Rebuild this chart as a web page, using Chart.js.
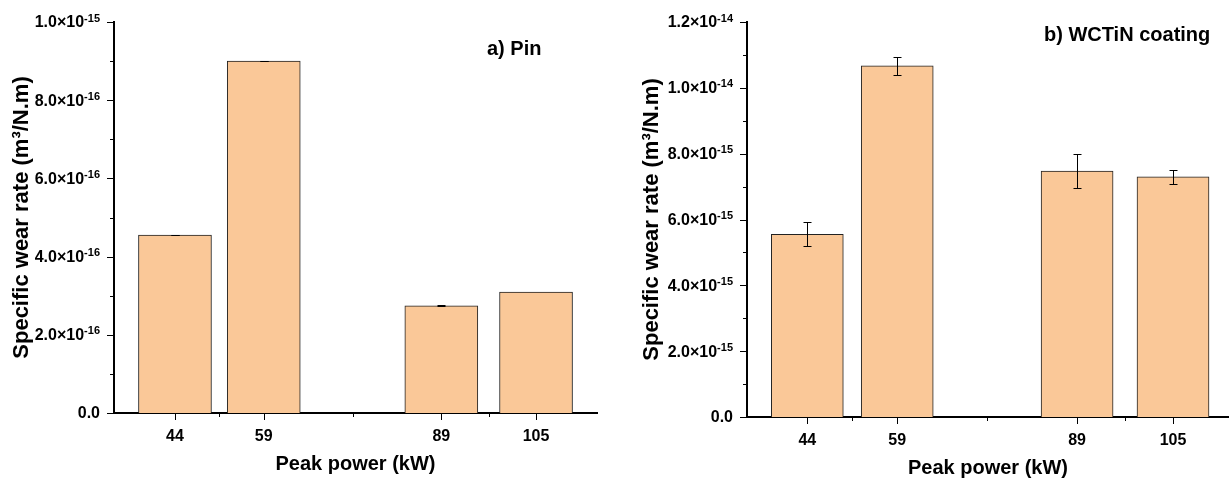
<!DOCTYPE html>
<html>
<head>
<meta charset="utf-8">
<title>Specific wear rate vs peak power</title>
<script src="https://cdn.jsdelivr.net/npm/chart.js@4"></script>
<style>
  html, body { margin: 0; padding: 0; background: #fff; }
  #wrap { position: relative; width: 1229px; height: 480px; overflow: hidden; }
  .panel { position: absolute; top: 0; }
  #panel-pin { left: 0; }
  #panel-coating { left: 630px; }
</style>
</head>
<body>
<div id="wrap">
  <canvas id="panel-pin" class="panel" width="612" height="480"></canvas>
  <canvas id="panel-coating" class="panel" width="599" height="480"></canvas>
</div>
<script>
// Peak power levels (kW)
const peakPower = [44, 59, 89, 105];

// a) pin wear rate, m3/N.m
const pinWear = [4.55e-16, 9.0e-16, 2.74e-16, 3.09e-16];
const pinErr  = [0.01e-16, 0.01e-16, 0.01e-16, 0];

// b) WCTiN coating wear rate, m3/N.m
const coatingWear = [5.55e-15, 10.67e-15, 7.47e-15, 7.30e-15];
const coatingErr  = [0.36e-15, 0.28e-15, 0.52e-15, 0.21e-15];

// Major y ticks for each panel
const pinYTicks     = [0, 2e-16, 4e-16, 6e-16, 8e-16, 1e-15];
const coatingYTicks = [0, 2e-15, 4e-15, 6e-15, 8e-15, 1e-14, 1.2e-14];

const FONT      = "'Liberation Sans', Arial, Helvetica, sans-serif";
const BAR_FILL  = '#FAC898';
const BAR_EDGE  = '#222';

// --- Helpers ---

// majors plus one minor tick half way between each pair
function withMinors(majors) {
    const ticks = [];
    majors.forEach((v, i) => {
        if (i > 0) ticks.push({ value: (majors[i - 1] + v) / 2, minor: true });
        ticks.push({ value: v, minor: false });
    });
    return ticks;
}

// 8e-16 -> { base: '8.0×10', exp: '-16' }
function splitSci(v) {
    if (v === 0) return { base: '0.0', exp: '' };
    const exp  = Math.floor(Math.log10(v) + 1e-9);
    const mant = v / Math.pow(10, exp);
    return { base: mant.toFixed(1) + '×10', exp: String(exp) };
}

// --- Plugins ---

// Error bars with small caps, drawn over the bars
const errorBars = {
    id: 'errorBars',
    afterDatasetsDraw(chart, args, opts) {
        const { ctx } = chart;
        const y    = chart.scales.y;
        const meta = chart.getDatasetMeta(0);
        const data = chart.data.datasets[0].data;
        const errs = opts.values || [];

        ctx.save();
        ctx.strokeStyle = '#000';
        ctx.lineWidth = 1;
        meta.data.forEach((bar, i) => {
            const e = errs[i];
            if (!e) return;
            const v   = data[i].y;
            const top = Math.round(y.getPixelForValue(v + e)) + 0.5;
            const bot = Math.round(y.getPixelForValue(v - e)) + 0.5;
            const cx  = Math.round(bar.x) + 0.5;
            ctx.beginPath();
            ctx.moveTo(cx, top);     ctx.lineTo(cx, bot);
            ctx.moveTo(cx - 4, top); ctx.lineTo(cx + 4, top);
            ctx.moveTo(cx - 4, bot); ctx.lineTo(cx + 4, bot);
            ctx.stroke();
        });
        ctx.restore();
    }
};

// Outward tick marks (short minors), y labels with superscript exponent, panel label
const axisDecor = {
    id: 'axisDecor',
    afterDraw(chart, args, opts) {
        const { ctx, chartArea } = chart;
        const { x, y } = chart.scales;

        ctx.save();
        ctx.strokeStyle = '#000';
        ctx.lineWidth = 1;
        ctx.beginPath();
        x.ticks.forEach(t => {
            const px  = Math.round(x.getPixelForValue(t.value)) + 0.5;
            const len = t.minor ? 4 : 7;
            ctx.moveTo(px, chartArea.bottom);
            ctx.lineTo(px, chartArea.bottom + len);
        });
        y.ticks.forEach(t => {
            const py  = Math.round(y.getPixelForValue(t.value)) + 0.5;
            const len = t.minor ? 4 : 7;
            ctx.moveTo(chartArea.left, py);
            ctx.lineTo(chartArea.left - len, py);
        });
        ctx.stroke();

        ctx.fillStyle = '#000';
        const right = chartArea.left - 14;
        y.ticks.forEach(t => {
            if (t.minor) return;
            const py = y.getPixelForValue(t.value);
            const { base, exp } = splitSci(t.value);

            ctx.font = `bold 11px ${FONT}`;
            const expWidth = exp ? ctx.measureText(exp).width : 0;
            if (exp) {
                ctx.textAlign = 'right';
                ctx.textBaseline = 'alphabetic';
                ctx.fillText(exp, right, py - 0.5);
            }

            ctx.font = `bold 16px ${FONT}`;
            ctx.textAlign = 'right';
            ctx.textBaseline = 'middle';
            ctx.fillText(base, right - expWidth, py + 1);
        });

        ctx.font = `bold 20px ${FONT}`;
        ctx.textAlign = 'left';
        ctx.textBaseline = 'middle';
        ctx.fillText(opts.label, opts.labelX, opts.labelY);
        ctx.restore();
    }
};

// --- Chart builder ---

function makePanel(canvasId, values, errors, yTicks, cfg) {
    return new Chart(document.getElementById(canvasId), {
        type: 'bar',
        data: {
            datasets: [{
                data: peakPower.map((p, i) => ({ x: p, y: values[i] })),
                backgroundColor: BAR_FILL,
                borderColor: BAR_EDGE,
                borderWidth: 1,
                barThickness: cfg.barWidth
            }]
        },
        options: {
            responsive: false,
            animation: false,
            devicePixelRatio: 1,
            layout: { padding: { top: 22, right: cfg.padRight, left: 0, bottom: 0 } },
            plugins: {
                legend: { display: false },
                tooltip: { enabled: false },
                errorBars: { values: errors },
                axisDecor: { label: cfg.label, labelX: cfg.labelX, labelY: cfg.labelY }
            },
            scales: {
                x: {
                    type: 'linear',
                    min: cfg.xMin,
                    max: cfg.xMax,
                    offset: false,
                    grid: { display: false, offset: false, tickLength: 7 },
                    border: { display: true, color: '#000', width: 2 },
                    afterBuildTicks: s => { s.ticks = withMinors(peakPower); },
                    afterFit: s => { s.height = cfg.xAxisHeight; },
                    ticks: {
                        autoSkip: false,
                        maxRotation: 0,
                        padding: 7,
                        color: '#000',
                        font: { family: FONT, size: 16, weight: 'bold' },
                        callback: (v, i, ticks) => ticks[i].minor ? '' : String(v)
                    },
                    title: {
                        display: true,
                        text: 'Peak power (kW)',
                        color: '#000',
                        font: { family: FONT, size: 20, weight: 'bold' },
                        padding: { top: 0, bottom: cfg.xTitlePad }
                    }
                },
                y: {
                    min: 0,
                    max: yTicks[yTicks.length - 1],
                    grid: { display: false, tickLength: 7 },
                    border: { display: true, color: '#000', width: 2 },
                    afterBuildTicks: s => { s.ticks = withMinors(yTicks); },
                    afterFit: s => { s.width = cfg.yAxisWidth; },
                    ticks: { display: false },
                    title: {
                        display: true,
                        text: 'Specific wear rate (m³/N.m)',
                        color: '#000',
                        font: { family: FONT, size: 22, weight: 'bold' },
                        padding: { top: 9, bottom: 0 }
                    }
                }
            }
        },
        plugins: [errorBars, axisDecor]
    });
}

makePanel('panel-pin', pinWear, pinErr, pinYTicks, {
    label: 'a) Pin', labelX: 487, labelY: 49,
    xMin: 33.7, xMax: 115.3,
    barWidth: 73, padRight: 15,
    yAxisWidth: 114, xAxisHeight: 67, xTitlePad: 4
});

makePanel('panel-coating', coatingWear, coatingErr, coatingYTicks, {
    label: 'b) WCTiN coating', labelX: 414, labelY: 35,
    xMin: 33.94, xMax: 114.34,
    barWidth: 72, padRight: 0,
    yAxisWidth: 117, xAxisHeight: 63, xTitlePad: 0
});
</script>
</body>
</html>
